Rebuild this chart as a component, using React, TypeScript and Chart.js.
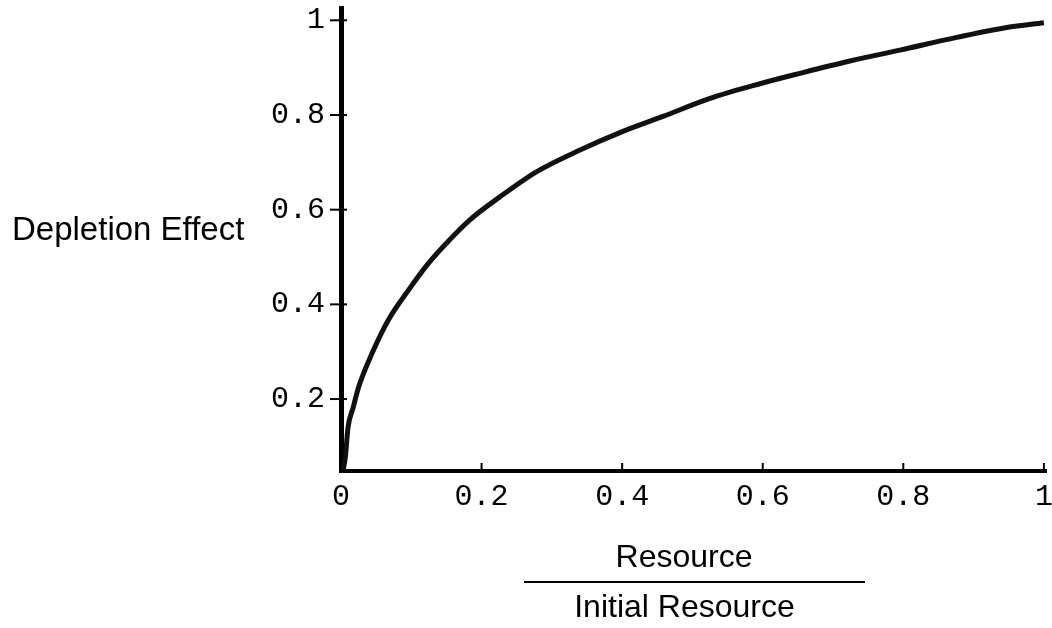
import React, { useEffect, useRef } from "react";
import { Chart, registerables } from "chart.js";

Chart.register(...registerables);

// Data
const resourceRatio = [0.003, 0.006, 0.010, 0.0175, 0.025, 0.044, 0.067, 0.096, 0.124, 0.155, 0.183, 0.226, 0.278, 0.340, 0.402, 0.458, 0.525, 0.596, 0.653, 0.724, 0.795, 0.876, 0.947, 1.0];
const depletionEffect = [0.05, 0.075, 0.14, 0.183, 0.225, 0.296, 0.366, 0.430, 0.486, 0.537, 0.578, 0.627, 0.680, 0.726, 0.766, 0.797, 0.835, 0.866, 0.888, 0.914, 0.937, 0.964, 0.985, 0.995];

const xTickValues = [0, 0.2, 0.4, 0.6, 0.8, 1];
const xTickLabels = ["0", "0.2", "0.4", "0.6", "0.8", "1"];
const yTickValues = [0.2, 0.4, 0.6, 0.8, 1];
const yTickLabels = ["0.2", "0.4", "0.6", "0.8", "1"];

const yAxisTitle = "Depletion Effect";
const xAxisTitleTop = "Resource";
const xAxisTitleBottom = "Initial Resource";

const MONO = '"Liberation Mono", "Courier New", monospace';
const SANS = '"Liberation Sans", Arial, Helvetica, sans-serif';

export default function App() {
  const canvasRef = useRef<HTMLCanvasElement | null>(null);

  useEffect(() => {
    const canvas = canvasRef.current;
    if (!canvas) return;

    const tickMarks = {
      id: "tickMarks",
      afterDatasetsDraw(chart: any) {
        const { ctx, chartArea, scales } = chart;
        ctx.save();
        ctx.strokeStyle = "#000";
        ctx.lineWidth = 2;
        for (const v of yTickValues) {
          const py = scales.y.getPixelForValue(v);
          ctx.beginPath();
          ctx.moveTo(chartArea.left - 11, py);
          ctx.lineTo(chartArea.left + 6, py);
          ctx.stroke();
        }
        for (const v of xTickValues) {
          if (v === 0) continue;
          const px = scales.x.getPixelForValue(v);
          ctx.beginPath();
          ctx.moveTo(px, chartArea.bottom - 8);
          ctx.lineTo(px, chartArea.bottom);
          ctx.stroke();
        }
        ctx.restore();
      },
    };

    const titles = {
      id: "titles",
      afterDraw(chart: any) {
        const { ctx } = chart;
        ctx.save();
        ctx.fillStyle = "#000";
        ctx.textBaseline = "alphabetic";
        ctx.textAlign = "left";
        ctx.font = `33px ${SANS}`;
        ctx.fillText(yAxisTitle, 12, 240);
        ctx.font = `32px ${SANS}`;
        ctx.textAlign = "center";
        ctx.fillText(xAxisTitleTop, 684, 567);
        ctx.fillText(xAxisTitleBottom, 684.5, 617);
        ctx.strokeStyle = "#000";
        ctx.lineWidth = 2;
        ctx.beginPath();
        ctx.moveTo(524, 582);
        ctx.lineTo(865, 582);
        ctx.stroke();
        ctx.restore();
      },
    };

    const chart = new Chart(canvas, {
      type: "scatter",
      data: {
        datasets: [
          {
            data: resourceRatio.map((x, i) => ({ x, y: depletionEffect[i] })),
            showLine: true,
            borderColor: "#111",
            borderWidth: 5,
            pointRadius: 0,
            cubicInterpolationMode: "monotone",
            fill: false,
          } as any,
        ],
      },
      options: {
        animation: false,
        responsive: false,
        devicePixelRatio: 1,
        layout: { padding: { left: 0, right: 6, top: 8, bottom: 0 } },
        plugins: { legend: { display: false }, tooltip: { enabled: false } },
        scales: {
          x: {
            type: "linear",
            min: 0,
            max: 1.003,
            grid: { display: false, drawTicks: false },
            border: { display: true, color: "#000", width: 4 },
            ticks: {
              color: "#000",
              padding: 8,
              font: { family: MONO, size: 30, lineHeight: 1.2 },
              maxRotation: 0,
              autoSkip: false,
              callback: (_v: any, i: number) => xTickLabels[i],
            },
            afterBuildTicks: (scale: any) => {
              scale.ticks = xTickValues.map((value) => ({ value }));
            },
            afterFit: (scale: any) => {
              scale.height = 157;
              scale.paddingLeft = 0;
              scale.paddingRight = 0;
            },
          },
          y: {
            type: "linear",
            min: 0.048,
            max: 1.026,
            grid: { display: false, drawTicks: false },
            border: { display: true, color: "#000", width: 5 },
            ticks: {
              color: "#000",
              padding: 16,
              font: { family: MONO, size: 30, lineHeight: 1.2 },
              autoSkip: false,
              callback: (_v: any, i: number) => yTickLabels[i],
            },
            afterBuildTicks: (scale: any) => {
              scale.ticks = yTickValues.map((value) => ({ value }));
            },
            afterFit: (scale: any) => {
              scale.width = 341;
              scale.paddingTop = 0;
              scale.paddingBottom = 0;
            },
          },
        },
      },
      plugins: [tickMarks, titles],
    } as any);

    return () => {
      chart.destroy();
    };
  }, []);

  return (
    <div style={{ position: "fixed", left: 0, top: 0, width: 1052, height: 628, background: "#fff" }}>
      <canvas ref={canvasRef} width={1052} height={628} style={{ display: "block" }} />
    </div>
  );
}
